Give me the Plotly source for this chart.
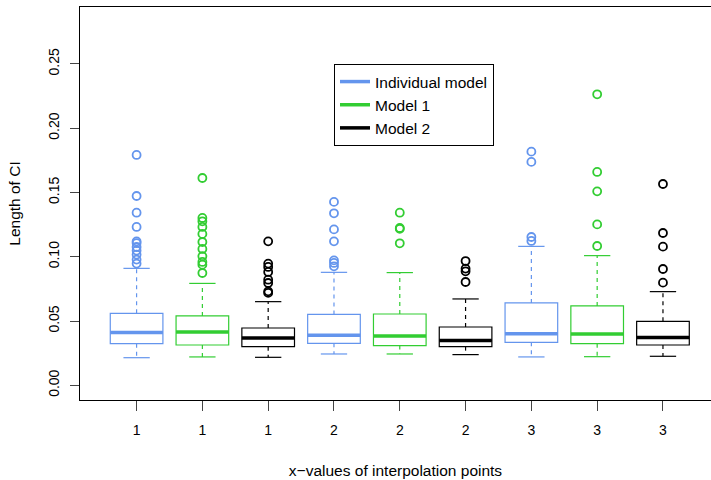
import plotly.graph_objects as go

# ---- data ----
positions = [1, 2, 3, 4, 5, 6, 7, 8, 9]
tick_labels = ["1", "1", "1", "2", "2", "2", "3", "3", "3"]
groups = ["Individual model", "Model 1", "Model 2"] * 3
colors_map = {"Individual model": "#6495ED", "Model 1": "#32CD32", "Model 2": "#000000"}

q1 = [0.0324, 0.0314, 0.0301, 0.0327, 0.0309, 0.0301, 0.0335, 0.0324, 0.0314]
median = [0.0412, 0.0415, 0.0369, 0.0389, 0.0384, 0.0348, 0.0402, 0.0400, 0.0373]
q3 = [0.0560, 0.0540, 0.0446, 0.0552, 0.0555, 0.0454, 0.0641, 0.0618, 0.0498]
lower_whisker = [0.0215, 0.0221, 0.0218, 0.0244, 0.0244, 0.0239, 0.0221, 0.0223, 0.0226]
upper_whisker = [0.0910, 0.0793, 0.0651, 0.0879, 0.0877, 0.0672, 0.1081, 0.1009, 0.0729]
outliers = [
    [0.1792, 0.1473, 0.1343, 0.1232, 0.1120, 0.1107, 0.1076, 0.1048, 0.1017, 0.0978, 0.0947],
    [0.1613, 0.1302, 0.1276, 0.1232, 0.1178, 0.1115, 0.1061, 0.1004, 0.0960, 0.0939, 0.0874],
    [0.1120, 0.0947, 0.0921, 0.0882, 0.0822, 0.0796, 0.0731, 0.0719],
    [0.1427, 0.1338, 0.1213, 0.1120, 0.0972, 0.0952, 0.0926],
    [0.1343, 0.1224, 0.1218, 0.1105],
    [0.0967, 0.0908, 0.0887, 0.0804],
    [0.1818, 0.1738, 0.1154, 0.1123],
    [0.2264, 0.1660, 0.1509, 0.1252, 0.1084],
    [0.1566, 0.1185, 0.1079, 0.0905, 0.0799],
]
y_ticks = [0.00, 0.05, 0.10, 0.15, 0.20, 0.25]

FONT = "Liberation Sans, Arial, Helvetica, sans-serif"
BOX_W = 0.8
CAP_W = 0.4

fig = go.Figure()

for i, pos in enumerate(positions):
    col = colors_map[groups[i]]
    # box body
    fig.add_trace(go.Box(
        x=[pos], q1=[q1[i]], median=[median[i]], q3=[q3[i]],
        lowerfence=[q1[i]], upperfence=[q3[i]],
        width=BOX_W, line=dict(color=col, width=1.2),
        fillcolor="rgba(255,255,255,0)", boxpoints=False,
        showlegend=False, hoverinfo="skip",
    ))
    # thick median
    fig.add_trace(go.Scatter(
        x=[pos - BOX_W / 2, pos + BOX_W / 2], y=[median[i], median[i]],
        mode="lines", line=dict(color=col, width=3.5),
        showlegend=False, hoverinfo="skip",
    ))
    # dashed whiskers
    fig.add_trace(go.Scatter(
        x=[pos, pos, None, pos, pos], y=[q3[i], upper_whisker[i], None, q1[i], lower_whisker[i]],
        mode="lines", line=dict(color=col, width=1.2, dash="4px,4px"),
        showlegend=False, hoverinfo="skip",
    ))
    # caps
    fig.add_trace(go.Scatter(
        x=[pos - CAP_W / 2, pos + CAP_W / 2, None, pos - CAP_W / 2, pos + CAP_W / 2],
        y=[upper_whisker[i], upper_whisker[i], None, lower_whisker[i], lower_whisker[i]],
        mode="lines", line=dict(color=col, width=1.2),
        showlegend=False, hoverinfo="skip",
    ))
    # outliers
    fig.add_trace(go.Scatter(
        x=[pos] * len(outliers[i]), y=outliers[i], mode="markers",
        marker=dict(symbol="circle-open", size=8, color=col, line=dict(width=1.8, color=col)),
        showlegend=False, hoverinfo="skip",
    ))

# legend entries
for name in ["Individual model", "Model 1", "Model 2"]:
    fig.add_trace(go.Scatter(
        x=[None], y=[None], mode="lines", name=name,
        line=dict(color=colors_map[name], width=3.5),
    ))

fig.update_layout(
    width=711, height=480,
    margin=dict(l=80, r=0, t=7, b=80),
    paper_bgcolor="white", plot_bgcolor="white",
    font=dict(family=FONT, size=14, color="black"),
    showlegend=True,
    legend=dict(
        x=(334 - 80) / 631, y=(400 - 64) / 393, xanchor="left", yanchor="top",
        bordercolor="black", borderwidth=1, bgcolor="white",
        font=dict(family=FONT, size=15.5, color="black"), tracegroupgap=0,
        itemwidth=30,
    ),
    xaxis=dict(
        range=[0.14, 9.73], tickvals=positions, ticktext=tick_labels,
        tickfont=dict(family=FONT, size=14, color="black"),
        showline=True, linecolor="black", linewidth=1, mirror=True,
        ticks="outside", ticklen=10, tickcolor="#444", tickwidth=1,
        ticklabelstandoff=7,
        showgrid=False, zeroline=False,
        title=dict(text="x\u2212values of interpolation points", standoff=28,
                   font=dict(family=FONT, size=15.5, color="black")),
    ),
    yaxis=dict(
        range=[-0.0114, 0.2943], tickvals=y_ticks, tickformat=".2f",
        tickangle=-90,
        tickfont=dict(family=FONT, size=14, color="black"),
        showline=True, linecolor="black", linewidth=1, mirror=False,
        ticks="outside", ticklen=9, tickcolor="#444", tickwidth=1,
        ticklabelstandoff=5,
        showgrid=False, zeroline=False,
        title=dict(text="Length of CI", standoff=21,
                   font=dict(family=FONT, size=15.5, color="black")),
    ),
)

fig.write_html("out.html")
